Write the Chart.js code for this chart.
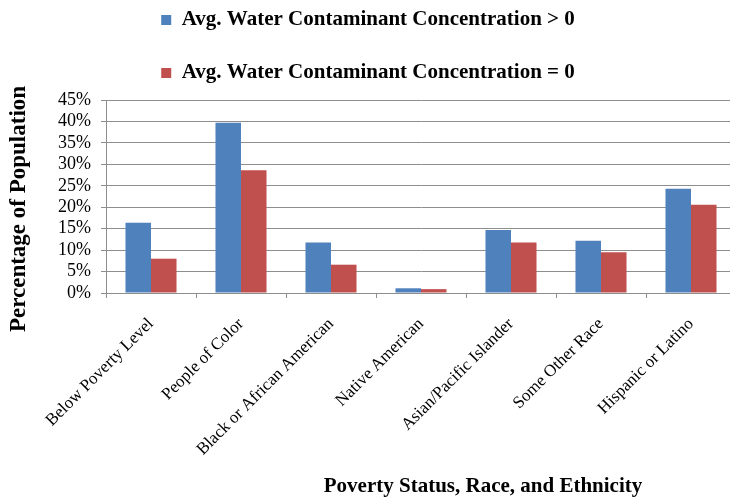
<!DOCTYPE html>
<html>
<head>
<meta charset="utf-8">
<script src="https://cdn.jsdelivr.net/npm/chart.js@4/dist/chart.umd.min.js"></script>
<style>
  html, body { margin: 0; padding: 0; overflow: hidden; background: #fff; }
</style>
</head>
<body>
<canvas id="waterChart" width="736" height="499"></canvas>
<script>
const categories = [
  "Below Poverty Level",
  "People of Color",
  "Black or African American",
  "Native American",
  "Asian/Pacific Islander",
  "Some Other Race",
  "Hispanic or Latino",
];
const seriesNames = [
  "Avg. Water Contaminant Concentration > 0",
  "Avg. Water Contaminant Concentration = 0",
];
const contaminated = [16.4, 39.7, 11.8, 1.1, 14.7, 12.2, 24.3];
const notContaminated = [8.0, 28.6, 6.6, 0.9, 11.8, 9.5, 20.6];
const yTicks = [0, 5, 10, 15, 20, 25, 30, 35, 40, 45];

const serif = "'Liberation Serif', 'Times New Roman', serif";
const gridGray = "#8e8e8e";

// axis titles sit off-centre in the original, so draw them by hand
const axisTitles = {
  id: "axisTitles",
  afterDraw(chart) {
    const c = chart.ctx;
    c.save();
    c.fillStyle = "#000";
    c.font = "bold 23px " + serif;
    c.textAlign = "center";
    c.textBaseline = "middle";
    c.translate(19, 209);
    c.rotate(-Math.PI / 2);
    c.fillText("Percentage of Population", 0, 0);
    c.restore();

    c.save();
    c.fillStyle = "#000";
    c.font = "bold 21px " + serif;
    c.textAlign = "center";
    c.textBaseline = "middle";
    c.fillText("Poverty Status, Race, and Ethnicity", 483, 487);
    c.restore();
  },
};

const ctx = document.getElementById("waterChart").getContext("2d");

const waterChart = new Chart(ctx, {
  type: "bar",
  data: {
    labels: categories,
    datasets: [
      {
        label: seriesNames[0],
        data: contaminated,
        backgroundColor: "#4f81bd",
      },
      {
        label: seriesNames[1],
        data: notContaminated,
        backgroundColor: "#c0504d",
      },
    ],
  },
  options: {
    responsive: false,
    animation: false,
    categoryPercentage: 0.567,
    barPercentage: 1,
    layout: { padding: { top: -22.5, left: 0, right: 0, bottom: 0 } },
    plugins: {
      tooltip: { enabled: false },
      legend: {
        position: "top",
        labels: {
          boxWidth: 10,
          boxHeight: 10,
          padding: 32,
          color: "#000",
          font: { family: serif, size: 21, weight: "bold" },
        },
      },
      // small empty block between legend and plot
      title: {
        display: true,
        text: "",
        weight: 900,
        font: { size: 1, lineHeight: 1 },
        padding: { top: 5.5, bottom: 0 },
      },
    },
    scales: {
      x: {
        afterFit(scale) {
          scale.height = 206;
        },
        grid: {
          offset: true,
          drawOnChartArea: false,
          tickLength: 5,
          color: gridGray,
        },
        border: { color: gridGray },
        ticks: {
          autoSkip: false,
          minRotation: 45,
          maxRotation: 45,
          padding: 16,
          color: "#000",
          font: { family: serif, size: 17 },
        },
      },
      y: {
        min: 0,
        max: 45,
        afterFit(scale) {
          scale.width = 106;
        },
        afterBuildTicks(scale) {
          scale.ticks = yTicks.map((v) => ({ value: v }));
        },
        grid: { color: gridGray, tickLength: 5 },
        border: { color: gridGray },
        ticks: {
          autoSkip: false,
          padding: 10,
          color: "#000",
          font: { family: serif, size: 18, lineHeight: 1 },
          callback: (v) => v + "%",
        },
      },
    },
  },
  plugins: [axisTitles],
});
</script>
</body>
</html>
